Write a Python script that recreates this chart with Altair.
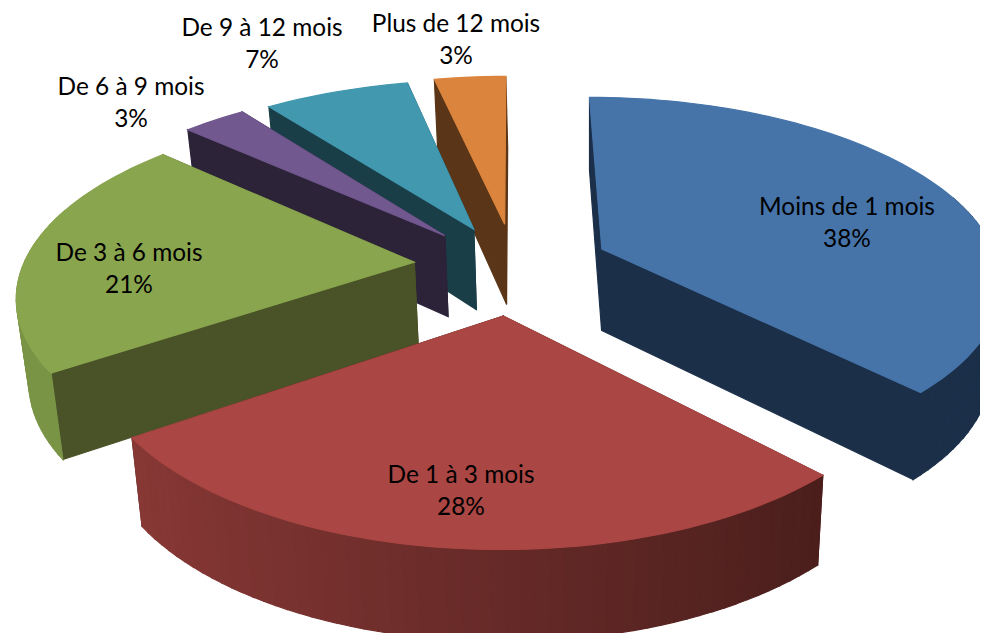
import math
import altair as alt

categories = ["Moins de 1 mois", "De 1 à 3 mois", "De 3 à 6 mois", "De 6 à 9 mois", "De 9 à 12 mois", "Plus de 12 mois"]
shares = [37.8, 27.6, 21.3, 3.0, 6.9, 3.4]
top_colors = ["#4674A9", "#AA4643", "#89A54E", "#71588F", "#4198AF", "#DB843D"]
wall_colors = ["#1B2F49", "#451C19", "#4A5328", "#2C2339", "#193E48", "#5B3517"]
outer_light = ["#1B2F49", "#8E3B38", "#7A9446", "#2C2339", "#193E48", "#5B3517"]
outer_dark = ["#1B2F49", "#3E1917", "#7A9446", "#2C2339", "#193E48", "#5B3517"]
explode_x = [0.24, 0.23, 0.245, 0.256, 0.24, 0.2]
explode_y = [0.235, 0.265, 0.225, 0.22, 0.22, 0.23]
radius = [0.98, 0.96, 0.965, 1.0, 1.0, 1.0]
label_xy = [(847, 208), (461, 476), (129, 254), (131, 88), (262, 29), (456, 25)]
draw_order = [5, 4, 3, 0, 2, 1]

CX, CY, A, B, P = 513, 265, 405, 185, 0.167
DEPTH, TAPER, TAPER_X = 82, 0.978, 590


def project(X, Y, low=False):
    s = 1 / (1 + P * Y)
    px = CX + A * X * s
    py = CY - B * Y * s
    if low:
        return [TAPER_X + (px - TAPER_X) * TAPER, py + DEPTH * (1 - 0.1 * Y)]
    return [px, py]


def hex_mix(c1, c2, t):
    a = [int(c1[i:i + 2], 16) for i in (1, 3, 5)]
    b = [int(c2[i:i + 2], 16) for i in (1, 3, 5)]
    return "#%02x%02x%02x" % tuple(round(u + (v - u) * t) for u, v in zip(a, b))


def feature(points, color):
    ring = points + [points[0]]
    return {"type": "Feature", "properties": {"color": color},
            "geometry": {"type": "Polygon", "coordinates": [ring]}}


bounds = []
acc = 0
for v in shares:
    bounds.append((acc / sum(shares) * 2 * math.pi, (acc + v) / sum(shares) * 2 * math.pi))
    acc += v

features = []
for i in draw_order:
    t0, t1 = bounds[i]
    mid = (t0 + t1) / 2
    ox, oy = explode_x[i] * math.sin(mid), explode_y[i] * math.cos(mid)
    r = radius[i]

    def rim(t):
        return ox + r * math.sin(t), oy + r * math.cos(t)

    n = max(6, int((t1 - t0) / 0.03))
    angles = [t0 + (t1 - t0) * k / n for k in range(n + 1)]
    apex_hi, apex_lo = project(ox, oy), project(ox, oy, True)
    radial = []
    for t in (t0, t1):
        x, y = rim(t)
        radial.append((project(x, y)[1], [apex_hi, project(x, y), project(x, y, True), apex_lo]))
    radial.sort(key=lambda q: q[0])
    for _, quad in radial:
        features.append(feature(quad, wall_colors[i]))
    for a, b in zip(angles[:-1], angles[1:]):
        if math.cos((a + b) / 2) < 0.3:
            xa, ya = rim(a)
            xb, yb = rim(b)
            color = hex_mix(outer_dark[i], outer_light[i], 1 - (math.sin((a + b) / 2) * 0.5 + 0.5))
            features.append(feature([project(xa, ya), project(xb, yb), project(xb, yb, True), project(xa, ya, True)], color))
    top = [apex_hi] + [project(*rim(t)) for t in angles]
    features.append(feature(top, top_colors[i]))

labels = [{"lon": x, "lat": y, "text": f"{c}\n{round(v)}%"} for (x, y), c, v in zip(label_xy, categories, shares)]

projection = alt.Projection(type="identity", scale=1, translate=[-8, -8])

pie = alt.Chart(alt.Data(values=features)).mark_geoshape(strokeWidth=1.2).encode(
    fill=alt.Fill("properties.color:N", scale=None),
    stroke=alt.Stroke("properties.color:N", scale=None),
).project(**projection.to_dict())

text = alt.Chart(alt.Data(values=labels)).mark_text(
    font="Lato", fontSize=24.4, lineBreak="\n", lineHeight=32, color="#000000", baseline="middle", align="center"
).encode(longitude="lon:Q", latitude="lat:Q", text="text:N").project(**projection.to_dict())

chart = alt.layer(pie, text).properties(
    width=972, height=625, padding=0, autosize=alt.AutoSizeParams(type="none")
).configure_view(stroke=None)

chart.save("out.html", embed_options={"renderer": "svg", "actions": False})
